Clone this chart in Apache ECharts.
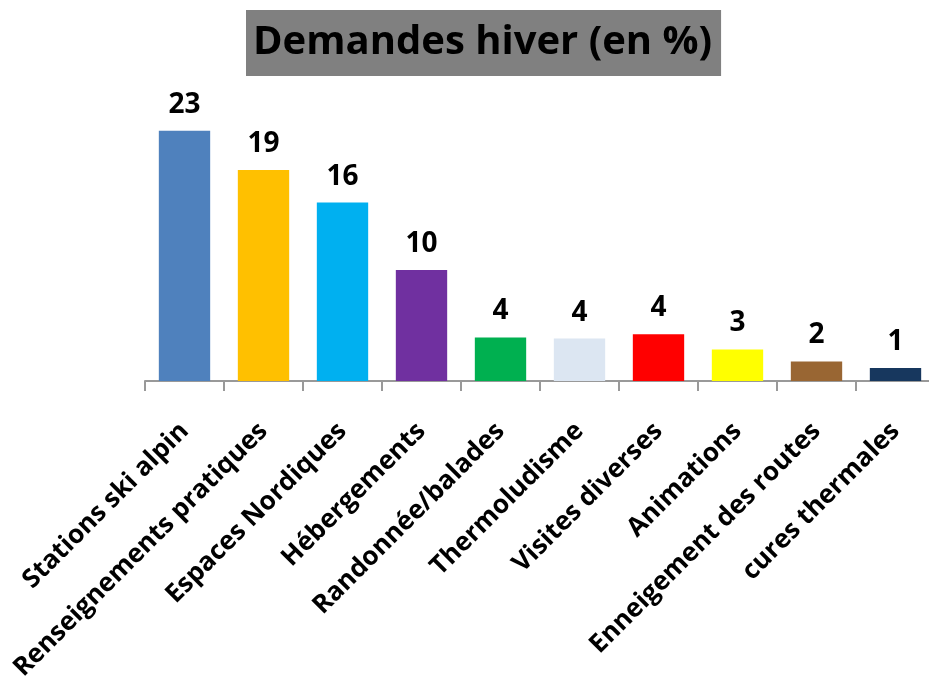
<!DOCTYPE html>
<html>
<head>
    <meta charset="utf-8">
    <script src="https://cdn.jsdelivr.net/npm/echarts@6/dist/echarts.min.js"></script>
    <title>Demandes hiver</title>
    <style>
        body { margin: 0; background: #fff; }
    </style>
</head>
<body>
    <div id="main" style="width:929px; height:680px;"></div>
    <script type="text/javascript">
        // data
        var categories = ['Stations ski alpin', 'Renseignements pratiques', 'Espaces Nordiques', 'Hébergements',
            'Randonnée/balades', 'Thermoludisme', 'Visites diverses', 'Animations', 'Enneigement des routes', 'cures thermales'];
        var values = [23, 19.4, 16.4, 10.2, 4, 3.9, 4.3, 2.9, 1.8, 1.2];
        var barColors = ['#4F81BD', '#FFC000', '#00B0F0', '#7030A0', '#00B050', '#DCE6F2', '#FF0000', '#FFFF00', '#996633', '#17375E'];

        var myChart = echarts.init(document.getElementById('main'));
        var font = '"Open Sans", sans-serif';

        var option = {
            animation: false,
            title: {
                text: 'Demandes hiver (en %)',
                left: 246,
                top: 10,
                backgroundColor: '#808080',
                padding: [13, 9, 13, 7],
                textStyle: { fontFamily: font, fontWeight: 'bold', fontSize: 40, color: '#000' }
            },
            grid: { left: 145, right: -6, top: 109, bottom: 299, outerBoundsMode: 'none', containLabel: false },
            xAxis: {
                type: 'category',
                data: categories,
                axisLine: { lineStyle: { color: '#999', width: 2 } },
                axisTick: { show: true, length: 10, lineStyle: { color: '#999', width: 2 } },
                axisLabel: {
                    rotate: 45,
                    margin: 46,
                    interval: 0,
                    color: '#000',
                    fontFamily: font,
                    fontWeight: 'bold',
                    fontSize: 26
                }
            },
            yAxis: {
                type: 'value',
                min: 0,
                max: 25,
                show: false,
                splitLine: { show: false }
            },
            series: [{
                type: 'bar',
                barCategoryGap: '35%',
                data: values.map(function (v, i) {
                    return { value: v, itemStyle: { color: barColors[i] } };
                }),
                label: {
                    show: true,
                    position: 'top',
                    distance: 12,
                    color: '#000',
                    fontFamily: font,
                    fontWeight: 'bold',
                    fontSize: 28,
                    formatter: function (p) { return Math.round(p.value); }
                }
            }]
        };
        myChart.setOption(option);
    </script>
</body>
</html>
